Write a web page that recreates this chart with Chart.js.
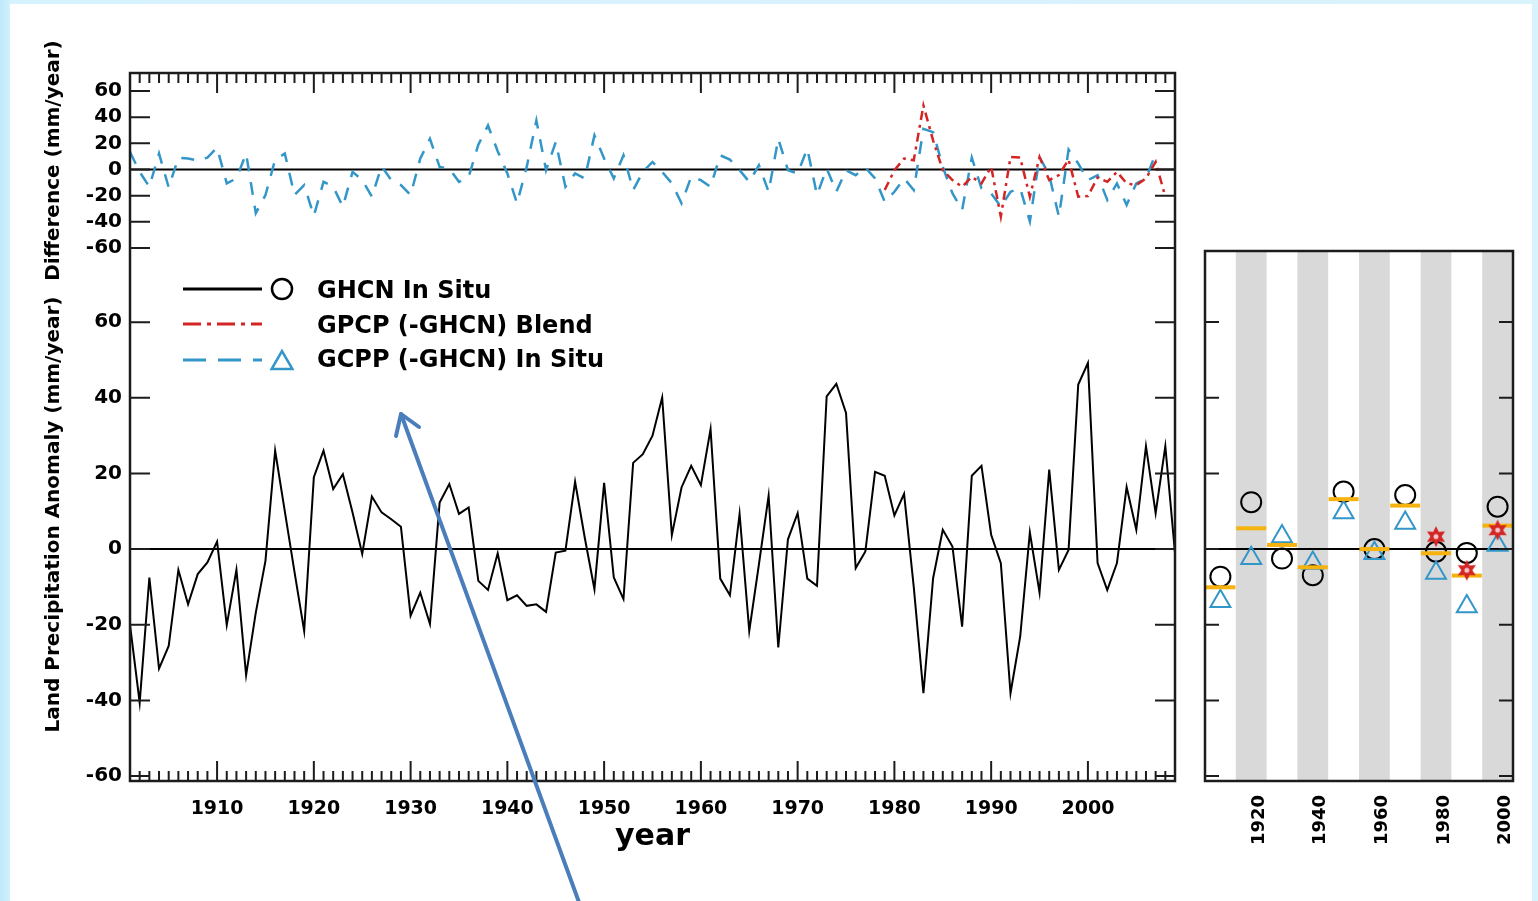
<!DOCTYPE html>
<html>
<head>
<meta charset="utf-8">
<title>Land precipitation anomaly</title>
<script src="https://cdn.jsdelivr.net/npm/chart.js@4.4.1/dist/chart.umd.min.js"></script>
<style>
  html, body { margin: 0; padding: 0; }
  body {
    width: 1538px; height: 901px; overflow: hidden; position: relative;
    background: linear-gradient(90deg, #bde8fa 0px, #d6f2fd 12px, #d9f3fd 100%);
  }
  #sheet { position: absolute; left: 10px; top: 4px; width: 1522px; height: 897px; background: #fff; }
  #mainChart { position: absolute; left: 0; top: 0; }
  #sideChart { position: absolute; left: 1186px; top: 0; }
  #arrow { position: absolute; left: 0; top: 0; pointer-events: none; }
</style>
</head>
<body>
<div id="sheet"></div>
<canvas id="mainChart" width="1186" height="901"></canvas>
<canvas id="sideChart" width="352" height="901"></canvas>
<svg id="arrow" width="1538" height="901">
  <g stroke="#4a7ebb" stroke-width="4" fill="none" stroke-linecap="round" stroke-linejoin="round">
    <line x1="580" y1="905" x2="401" y2="414"/>
    <polyline points="396,436 401,414 419,427"/>
  </g>
</svg>
<script>
// ---- data ----
const years = [
  1901, 1902, 1903, 1904, 1905, 1906, 1907, 1908, 1909, 1910,
  1911, 1912, 1913, 1914, 1915, 1916, 1917, 1918, 1919, 1920,
  1921, 1922, 1923, 1924, 1925, 1926, 1927, 1928, 1929, 1930,
  1931, 1932, 1933, 1934, 1935, 1936, 1937, 1938, 1939, 1940,
  1941, 1942, 1943, 1944, 1945, 1946, 1947, 1948, 1949, 1950,
  1951, 1952, 1953, 1954, 1955, 1956, 1957, 1958, 1959, 1960,
  1961, 1962, 1963, 1964, 1965, 1966, 1967, 1968, 1969, 1970,
  1971, 1972, 1973, 1974, 1975, 1976, 1977, 1978, 1979, 1980,
  1981, 1982, 1983, 1984, 1985, 1986, 1987, 1988, 1989, 1990,
  1991, 1992, 1993, 1994, 1995, 1996, 1997, 1998, 1999, 2000,
  2001, 2002, 2003, 2004, 2005, 2006, 2007, 2008, 2009
];
const decadeTicks = [1910, 1920, 1930, 1940, 1950, 1960, 1970, 1980, 1990, 2000];
const anomalyTicks = [60, 40, 20, 0, -20, -40, -60];

// GHCN in situ land precipitation anomaly (mm/year)
const ghcnAnomaly = [
  -20, -40.6, -7.5, -31.6, -25.6, -5.5, -14.6, -6.6, -3.5, 2.0,
  -20.1, -5.5, -33.3, -16.8, -3.1, 26.0, 10, -6, -21.6, 19.0,
  26.0, 15.9, 19.8, 9.7, -1.3, 13.9, 9.7, 7.9, 5.9, -17.6,
  -11.5, -19.8, 12.3, 17.2, 9.3, 11.0, -8.4, -10.8, -1.1, -13.5,
  -12.2, -15.0, -14.6, -16.6, -0.9, -0.4, 17.8, 3.0, -10.6, 17.5,
  -7.5, -13.2, 22.8, 25.1, 30.0, 40.1, 3.7, 16.3, 22.0, 16.9,
  31.7, -7.8, -12.2, 9.3, -21.6, -4, 14.1, -26.0, 2.6, 9.5,
  -7.8, -9.7, 40.4, 43.7, 36.0, -5.0, -0.6, 20.4, 19.4, 8.9,
  14.6, -10, -38.1, -7.7, 5.1, 0.7, -20.5, 19.4, 22.0, 3.8,
  -3.7, -38.1, -23.1, 4.4, -11.5, 21.0, -5.5, -0.2, 43.5, 49.2,
  -3.7, -10.8, -3.7, 16.4, 5.1, 27.2, 9.5, 27.2, -1
];

// GCPP minus GHCN (in situ), 1901-2007
const gcppDiff = [
  13.4, -1.8, -13.2, 12.2, -13.7, 9.1, 8.4, 7, 9.1, 16.7,
  -10.6, -6.8, 12.2, -33.4, -19.5, 7.6, 12.2, -19.5, -11.9, -35.4,
  -9.4, -13.2, -28.4, -1.8, -8.1, -20.8, 2.5, -8.1, -11.9, -19.5,
  8.4, 23.5, 2.0, 0.8, -9.4, -5.6, 19, 33.7, 14, -3.0,
  -25.8, 2.0, 37.5, -0.5, 21.0, -13.2, -3.0, -6.8, 26.1, 8.4,
  -6.8, 10.9, -15.7, -1.8, 5.8, -1.8, -10.6, -25.8, -5.6, -8.1,
  -13.2, 10.9, 7.6, -0.5, -9.4, 3.3, -17, 23.5, -0.5, -3.0,
  16, -19.5, 0.8, -17, -0.5, -4.3, 1.5, -6.8, -24.6, -17,
  -6.8, -15.7, 31.1, 28.6, 2.0, -18.2, -30.9, 9.1, -14.4, -18.2,
  -28.4, -17, -14.4, -39.7, 9.6, -4.3, -36, 15.2, 4.6, -8.1,
  -4.3, -23.3, -10.6, -27.1, -10.6, -6.8, 12.2
];

// GPCP blend minus GHCN, 1979-2008
const gpcpYears = [
  1979, 1980, 1981, 1982, 1983, 1984, 1985, 1986, 1987, 1988,
  1989, 1990, 1991, 1992, 1993, 1994, 1995, 1996, 1997, 1998,
  1999, 2000, 2001, 2002, 2003, 2004, 2005, 2006, 2007, 2008
];
const gpcpDiff = [
  -15.7, -0.5, 8.4, 7.1, 48.9, 22.3, -0.5, -8.1, -13.2, -5.6,
  -10.6, 2.0, -36, 9.6, 9.1, -20.8, 9.6, -8.1, -4.3, 7.6,
  -20.8, -20.3, -6.1, -9.4, -1.8, -10.6, -11.9, -6.8, 5.8, -20.8
];

// decadal panel
const decadeMid = [1905.5, 1915.5, 1925.5, 1935.5, 1945.5, 1955.5, 1965.5, 1975.5, 1985.5, 1995.5];
const ghcnDecadal = [-7.3, 12.4, -2.5, -6.9, 15.2, 0, 14.3, -0.7, -1.0, 11.2];
const gcppDecadal = [-13.8, -2.4, 3.3, -3.7, 9.7, -1.1, 6.9, -6.3, -15.2, 1.1];
const meanDecadal = [-10.1, 5.5, 1.1, -4.8, 13.2, 0, 11.5, -1.1, -7.0, 6.2];
const gpcpDecadeMid = [1975.5, 1985.5, 1995.5];
const gpcpDecadal = [3.3, -5.6, 5.0];
const sideTicks = [1920, 1940, 1960, 1980, 2000];
const shadedDecades = [1911, 1931, 1951, 1971, 1991];

// ---- styling ----
const BLACK = '#000000';
const BLUE = '#3396c8';
const RED = '#d42424';
const ORANGE = '#f6b20e';
const FRAME = '#1c1c1c';
const FONT = "'DejaVu Sans', 'Liberation Sans', sans-serif";

Chart.defaults.font.family = FONT;
Chart.defaults.font.weight = 'bold';
Chart.defaults.color = BLACK;
Chart.defaults.animation = false;

const pts = (xs, vs) => vs.map((v, i) => ({ x: xs[i], y: v }));

function drawTriangle(ctx, x, y, r) {
    ctx.beginPath();
    ctx.moveTo(x, y - r);
    ctx.lineTo(x + r * Math.sin(2 * Math.PI / 3), y - r * Math.cos(2 * Math.PI / 3));
    ctx.lineTo(x - r * Math.sin(2 * Math.PI / 3), y - r * Math.cos(2 * Math.PI / 3));
    ctx.closePath();
    ctx.stroke();
}

// ---- main panel helpers ----
const mainFrame = {
    id: 'mainFrame',
    beforeDatasetsDraw(chart) {
        const { ctx, chartArea: a, scales } = chart;
        ctx.save();
        ctx.strokeStyle = BLACK;
        ctx.lineWidth = 2;
        ['yTop', 'yMain'].forEach((id) => {
            const y0 = scales[id].getPixelForValue(0);
            ctx.beginPath();
            ctx.moveTo(a.left, y0);
            ctx.lineTo(a.right, y0);
            ctx.stroke();
        });
        ctx.restore();
    },
    afterDatasetsDraw(chart) {
        const { ctx, chartArea: a, scales } = chart;
        ctx.save();
        ctx.strokeStyle = FRAME;
        ctx.lineWidth = 2;
        ctx.beginPath();
        years.forEach((yr) => {
            const px = scales.x.getPixelForValue(yr);
            const len = decadeTicks.includes(yr) ? 20 : 10;
            ctx.moveTo(px, a.top);
            ctx.lineTo(px, a.top + len);
            ctx.moveTo(px, a.bottom);
            ctx.lineTo(px, a.bottom - len);
        });
        ['yTop', 'yMain'].forEach((id) => {
            scales[id].ticks.forEach((t) => {
                const py = scales[id].getPixelForValue(t.value);
                ctx.moveTo(a.left, py);
                ctx.lineTo(a.left + 20, py);
                ctx.moveTo(a.right, py);
                ctx.lineTo(a.right - 20, py);
            });
        });
        ctx.stroke();
        ctx.lineWidth = 2.5;
        ctx.strokeRect(a.left, a.top, a.right - a.left, a.bottom - a.top);
        ctx.restore();
    },
    afterDraw(chart) {
        // legend inside the plot
        const { ctx, chartArea: a } = chart;
        const ds = chart.data.datasets;
        const rows = [
            { d: ds[0], y: 289, dash: [], marker: 'circle', ty: 292 },
            { d: ds[1], y: 324, dash: [18, 6, 4, 6], marker: null, ty: 327 },
            { d: ds[2], y: 360, dash: [23, 12], marker: 'triangle', ty: 361 },
        ];
        const x0 = a.left + 53, x1 = a.left + 132, mx = a.left + 152, tx = a.left + 187;
        ctx.save();
        rows.forEach((r) => {
            ctx.strokeStyle = r.d.borderColor;
            ctx.lineWidth = 3;
            ctx.setLineDash(r.dash);
            ctx.beginPath();
            ctx.moveTo(x0, r.y);
            ctx.lineTo(x1, r.y);
            ctx.stroke();
            ctx.setLineDash([]);
            ctx.lineWidth = 2.5;
            if (r.marker === 'circle') {
                ctx.beginPath();
                ctx.arc(mx, r.y, 10, 0, Math.PI * 2);
                ctx.stroke();
            } else if (r.marker === 'triangle') {
                drawTriangle(ctx, mx, r.y + 3, 12);
            }
            ctx.fillStyle = BLACK;
            ctx.font = `bold 24px ${FONT}`;
            ctx.textBaseline = 'middle';
            ctx.textAlign = 'left';
            ctx.fillText(r.d.label, tx, r.ty);
        });
        ctx.restore();
    },
};

const yTickOpts = {
    font: { size: 20, weight: 'bold' },
    color: BLACK,
    padding: 8,
    autoSkip: false,
    callback: (v) => String(v),
};

new Chart(document.getElementById('mainChart'), {
    type: 'line',
    data: {
        datasets: [
            {
                label: 'GHCN In Situ',
                data: pts(years, ghcnAnomaly),
                yAxisID: 'yMain',
                borderColor: BLACK,
                borderWidth: 2,
                pointRadius: 0,
                tension: 0,
                order: 3,
            },
            {
                label: 'GPCP (-GHCN) Blend',
                data: pts(gpcpYears, gpcpDiff),
                yAxisID: 'yTop',
                borderColor: RED,
                borderWidth: 2.5,
                borderDash: [9, 5, 3, 5],
                pointRadius: 0,
                order: 1,
            },
            {
                label: 'GCPP (-GHCN) In Situ',
                data: pts(years, gcppDiff),
                yAxisID: 'yTop',
                borderColor: BLUE,
                borderWidth: 2.5,
                borderDash: [13, 11],
                pointRadius: 0,
                order: 2,
            },
        ],
    },
    options: {
        responsive: false,
        devicePixelRatio: 1,
        events: [],
        layout: { padding: { left: 0, right: 11, top: 73, bottom: 0 } },
        plugins: { legend: { display: false }, tooltip: { enabled: false } },
        scales: {
            x: {
                type: 'linear',
                min: 1901,
                max: 2009,
                bounds: 'data',
                grid: { display: false, drawTicks: false },
                border: { display: false },
                afterBuildTicks: (s) => { s.ticks = decadeTicks.map((v) => ({ value: v })); },
                afterFit: (s) => { s.height = 120; },
                ticks: {
                    font: { size: 19, weight: 'bold' },
                    color: BLACK,
                    padding: 17,
                    maxRotation: 0,
                    autoSkip: false,
                    callback: (v) => String(v),
                },
                title: {
                    display: true,
                    text: 'year',
                    font: { size: 30, weight: 'bold' },
                    color: BLACK,
                    padding: { top: 0, bottom: 46 },
                },
            },
            yMain: {
                type: 'linear',
                position: 'left',
                stack: 'left',
                stackWeight: 533,
                min: -61.3,
                max: 79.6,
                bounds: 'data',
                grid: { display: false, drawTicks: false },
                border: { display: false },
                afterBuildTicks: (s) => { s.ticks = anomalyTicks.map((v) => ({ value: v })); },
                afterFit: (s) => { s.width = 130; },
                ticks: yTickOpts,
                title: {
                    display: true,
                    text: 'Land Precipitation Anomaly (mm/year)',
                    font: { size: 20, weight: 'bold' },
                    color: BLACK,
                    padding: { top: 42, bottom: 0 },
                },
            },
            yTop: {
                type: 'linear',
                position: 'left',
                stack: 'left',
                stackWeight: 175,
                min: -60,
                max: 73.8,
                bounds: 'data',
                grid: { display: false, drawTicks: false },
                border: { display: false },
                afterBuildTicks: (s) => { s.ticks = anomalyTicks.map((v) => ({ value: v })); },
                afterFit: (s) => { s.width = 130; },
                ticks: yTickOpts,
                title: {
                    display: true,
                    text: 'Difference (mm/year)',
                    font: { size: 20, weight: 'bold' },
                    color: BLACK,
                    padding: { top: 42, bottom: 0 },
                },
            },
        },
    },
    plugins: [mainFrame],
});

// ---- decadal side panel ----
function makeStar() {
    const c = document.createElement('canvas');
    c.width = 24;
    c.height = 24;
    const g = c.getContext('2d');
    g.fillStyle = RED;
    g.beginPath();
    for (let k = 0; k < 12; k++) {
        const r = k % 2 === 0 ? 10.5 : 5.5;
        const ang = -Math.PI / 2 + (k * Math.PI) / 6;
        const px = 12 + r * Math.cos(ang), py = 12 + r * Math.sin(ang);
        if (k === 0) g.moveTo(px, py); else g.lineTo(px, py);
    }
    g.closePath();
    g.fill();
    g.fillStyle = '#f2c8c8';
    g.beginPath();
    g.arc(12, 12, 2.5, 0, Math.PI * 2);
    g.fill();
    return c;
}

const sideFrame = {
    id: 'sideFrame',
    beforeDatasetsDraw(chart) {
        const { ctx, chartArea: a, scales } = chart;
        ctx.save();
        ctx.fillStyle = '#d9d9d9';
        shadedDecades.forEach((d) => {
            const l = Math.max(a.left, scales.x.getPixelForValue(d - 0.5));
            const r = Math.min(a.right, scales.x.getPixelForValue(d + 9.5));
            ctx.fillRect(l, a.top, r - l, a.bottom - a.top);
        });
        ctx.strokeStyle = BLACK;
        ctx.lineWidth = 2;
        const y0 = scales.y.getPixelForValue(0);
        ctx.beginPath();
        ctx.moveTo(a.left, y0);
        ctx.lineTo(a.right, y0);
        ctx.stroke();
        ctx.restore();
    },
    afterDatasetsDraw(chart) {
        const { ctx, chartArea: a, scales } = chart;
        ctx.save();
        ctx.strokeStyle = FRAME;
        ctx.lineWidth = 2;
        ctx.beginPath();
        anomalyTicks.forEach((v) => {
            const py = scales.y.getPixelForValue(v);
            ctx.moveTo(a.left, py);
            ctx.lineTo(a.left + 14, py);
            ctx.moveTo(a.right, py);
            ctx.lineTo(a.right - 14, py);
        });
        ctx.stroke();
        ctx.lineWidth = 2.5;
        ctx.strokeRect(a.left, a.top, a.right - a.left, a.bottom - a.top);
        ctx.restore();
    },
};

new Chart(document.getElementById('sideChart'), {
    type: 'scatter',
    data: {
        datasets: [
            {
                label: 'GHCN decadal',
                data: pts(decadeMid, ghcnDecadal),
                pointStyle: 'circle',
                pointRadius: 10,
                pointBorderWidth: 2,
                pointBorderColor: BLACK,
                pointBackgroundColor: 'rgba(0,0,0,0)',
                order: 4,
            },
            {
                label: 'GCPP decadal',
                data: pts(decadeMid, gcppDecadal),
                pointStyle: 'triangle',
                pointRadius: 11.5,
                pointBorderWidth: 2,
                pointBorderColor: BLUE,
                pointBackgroundColor: 'rgba(0,0,0,0)',
                order: 3,
            },
            {
                label: 'Mean decadal',
                data: pts(decadeMid, meanDecadal),
                pointStyle: 'line',
                pointRadius: 15,
                pointBorderWidth: 4,
                pointBorderColor: ORANGE,
                order: 2,
            },
            {
                label: 'GPCP decadal',
                data: pts(gpcpDecadeMid, gpcpDecadal),
                pointStyle: makeStar(),
                pointRadius: 10,
                order: 1,
            },
        ],
    },
    options: {
        responsive: false,
        devicePixelRatio: 1,
        events: [],
        layout: { padding: { left: 15, right: 25, top: 251, bottom: 0 } },
        plugins: { legend: { display: false }, tooltip: { enabled: false } },
        scales: {
            x: {
                type: 'linear',
                min: 1900.5,
                max: 2000.5,
                bounds: 'data',
                grid: { display: false, drawTicks: false },
                border: { display: false },
                afterBuildTicks: (s) => { s.ticks = sideTicks.map((v) => ({ value: v })); },
                afterFit: (s) => {
                    s.height = 120;
                    s.paddingLeft = 0;
                    s.paddingRight = 0;
                },
                ticks: {
                    font: { size: 18, weight: 'bold' },
                    color: BLACK,
                    padding: 14,
                    minRotation: 90,
                    maxRotation: 90,
                    labelOffset: -6,
                    autoSkip: false,
                    callback: (v) => String(v),
                },
            },
            y: {
                type: 'linear',
                display: false,
                min: -61.3,
                max: 78.8,
                afterFit: (s) => { s.width = 0; },
            },
        },
    },
    plugins: [sideFrame],
});
</script>
</body>
</html>
